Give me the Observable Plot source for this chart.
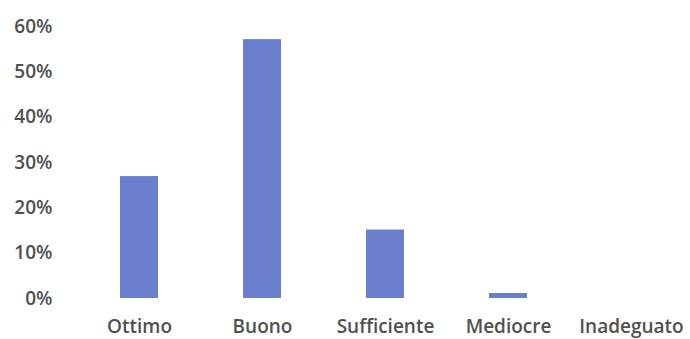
<!DOCTYPE html>
<html>
<head>
<meta charset="utf-8">
<script src="https://cdn.jsdelivr.net/npm/d3@7"></script>
<script src="https://cdn.jsdelivr.net/npm/@observablehq/plot@0.6"></script>
<style>
  html, body { margin: 0; padding: 0; background: #fff; }
</style>
</head>
<body>
<div id="chart"></div>
<script>
const categories = ["Ottimo", "Buono", "Sufficiente", "Mediocre", "Inadeguato"];
const values = [0.269, 0.571, 0.151, 0.011, 0];
const yTicks = [0, 0.1, 0.2, 0.3, 0.4, 0.5, 0.6];

const data = categories.map((c, i) => ({category: c, value: values[i]}));

const chart = Plot.plot({
  width: 690,
  height: 339,
  marginLeft: 76,
  marginRight: 0,
  marginTop: 26,
  marginBottom: 41,
  style: {fontFamily: "'Open Sans', sans-serif", fontSize: "19px", fontWeight: 600, color: "#505050", background: "#fff"},
  x: {domain: categories, range: [76, 695], paddingInner: 0.69, paddingOuter: 0.345, label: null},
  y: {domain: [0, 0.6], label: null},
  marks: [
    Plot.barY(data, {x: "category", y: "value", fill: "#6a80cf"}),
    Plot.axisX({tickSize: 0, tickPadding: 21, fill: "#505050", fontSize: 19}),
    Plot.axisY({ticks: yTicks, tickSize: 0, tickPadding: 24, tickFormat: d => Math.round(d * 100) + "%", fill: "#505050", fontSize: 19})
  ]
});
document.getElementById("chart").appendChild(chart);
</script>
</body>
</html>
